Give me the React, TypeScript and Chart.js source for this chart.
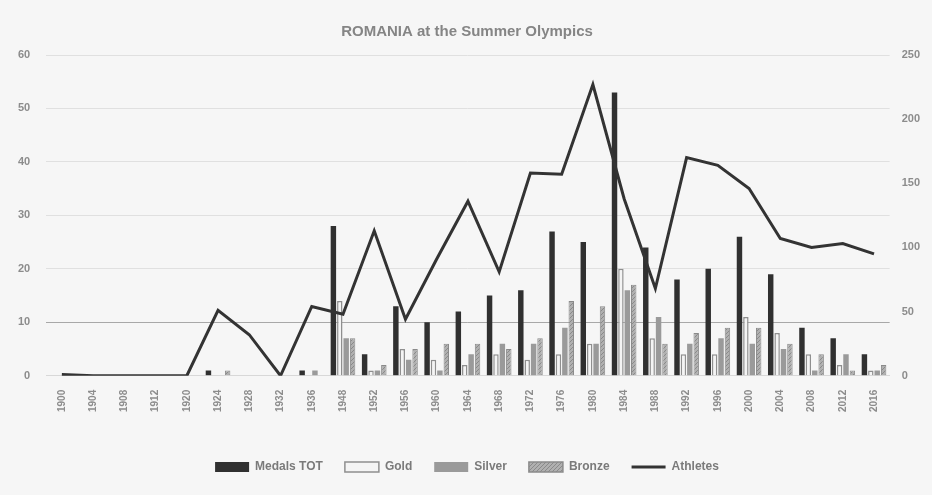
import React, { useEffect, useRef } from "react";
import { Chart, registerables } from "chart.js";

Chart.register(...registerables);

const years = ["1900", "1904", "1908", "1912", "1920", "1924", "1928", "1932", "1936", "1948", "1952", "1956", "1960", "1964", "1968", "1972", "1976", "1980", "1984", "1988", "1992", "1996", "2000", "2004", "2008", "2012", "2016"];
const medalsTot = [0, 0, 0, 0, 0, 1, 0, 0, 1, 28, 4, 13, 10, 12, 15, 16, 27, 25, 53, 24, 18, 20, 26, 19, 9, 7, 4];
const gold = [0, 0, 0, 0, 0, 0, 0, 0, 0, 14, 1, 5, 3, 2, 4, 3, 4, 6, 20, 7, 4, 4, 11, 8, 4, 2, 1];
const silver = [0, 0, 0, 0, 0, 0, 0, 0, 1, 7, 1, 3, 1, 4, 6, 6, 9, 6, 16, 11, 6, 7, 6, 5, 1, 4, 1];
const bronze = [0, 0, 0, 0, 0, 1, 0, 0, 0, 7, 2, 5, 6, 6, 5, 7, 14, 13, 17, 6, 8, 9, 9, 6, 4, 1, 2];
const athletes = [1, 0, 0, 0, 0, 51, 32, 0, 54, 48, 113, 44, 91, 136, 81, 158, 157, 227, 138, 68, 170, 164, 146, 107, 100, 103, 95];

const leftTicks = [0, 10, 20, 30, 40, 50, 60];
const rightTicks = [0, 50, 100, 150, 200, 250];

const TEXT = "#8c8c8c";
const FONT = "'Liberation Sans', 'DejaVu Sans', sans-serif";

function makeHatch(): CanvasPattern | string {
  const c = document.createElement("canvas");
  c.width = 4;
  c.height = 4;
  const g = c.getContext("2d");
  if (!g) return "#a6a6a6";
  g.fillStyle = "#b0b0b0";
  g.fillRect(0, 0, 4, 4);
  g.strokeStyle = "#8a8a8a";
  g.lineWidth = 1;
  g.beginPath();
  g.moveTo(0, 4);
  g.lineTo(4, 0);
  g.stroke();
  const p = g.createPattern(c, "repeat");
  return p || "#a6a6a6";
}

export default function App() {
  const ref = useRef<HTMLCanvasElement | null>(null);

  useEffect(() => {
    document.body.style.margin = "0";
    const canvas = ref.current;
    if (!canvas) return;
    const hatch = makeHatch();
    const chart = new Chart(canvas, {
      data: {
        labels: years,
        datasets: [
          {
            type: "bar",
            label: "Medals TOT",
            data: medalsTot,
            backgroundColor: "#303030",
            borderColor: "#303030",
            borderWidth: 0,
            yAxisID: "y",
            order: 2,
            categoryPercentage: 0.82,
            barPercentage: 0.85,
          },
          {
            type: "bar",
            label: "Gold",
            data: gold,
            backgroundColor: "#f4f4f4",
            borderColor: "#8f8f8f",
            borderWidth: 1.5,
            yAxisID: "y",
            order: 2,
            categoryPercentage: 0.82,
            barPercentage: 0.85,
          },
          {
            type: "bar",
            label: "Silver",
            data: silver,
            backgroundColor: "#9a9a9a",
            borderColor: "#9a9a9a",
            borderWidth: 0,
            yAxisID: "y",
            order: 2,
            categoryPercentage: 0.82,
            barPercentage: 0.85,
          },
          {
            type: "bar",
            label: "Bronze",
            data: bronze,
            backgroundColor: hatch as any,
            borderColor: "#8a8a8a",
            borderWidth: 1,
            yAxisID: "y",
            order: 2,
            categoryPercentage: 0.82,
            barPercentage: 0.85,
          },
          {
            type: "line",
            label: "Athletes",
            data: athletes,
            borderColor: "#333333",
            backgroundColor: "#333333",
            borderWidth: 3,
            pointRadius: 0,
            tension: 0,
            yAxisID: "y1",
            order: 1,
          },
        ],
      } as any,
      options: {
        animation: false,
        responsive: false,
        maintainAspectRatio: false,
        layout: { padding: { left: 2, right: 0, top: 0, bottom: 12 } },
        plugins: {
          title: {
            display: true,
            text: "ROMANIA at the Summer Olympics",
            color: "#858585",
            font: { family: FONT, size: 15, weight: "bold" },
            padding: { top: 23, bottom: 14 },
          },
          legend: {
            position: "bottom",
            labels: {
              color: "#7a7a7a",
              font: { family: FONT, size: 12, weight: "bold" },
              usePointStyle: true,
              pointStyleWidth: 34,
              boxHeight: 10,
              padding: 22,
              generateLabels: (ch: any) => {
                const base = Chart.defaults.plugins.legend.labels.generateLabels(ch);
                return base
                  .slice()
                  .sort((a: any, b: any) => a.datasetIndex - b.datasetIndex)
                  .map((it: any) => {
                    const i = it.datasetIndex;
                    if (i === 4) {
                      return { ...it, pointStyle: "line", lineWidth: 3, strokeStyle: "#333333", fillStyle: "#333333" };
                    }
                    return { ...it, pointStyle: "rect", lineWidth: i === 1 || i === 3 ? 1.5 : 0 };
                  });
              },
            },
          },
          tooltip: { enabled: false },
        },
        scales: {
          x: {
            grid: { display: false },
            border: { display: true, color: "#d8d8d8" },
            afterFit: (axis: any) => {
              axis.height += 21;
            },
            ticks: {
              color: TEXT,
              font: { family: FONT, size: 10, weight: "bold" },
              minRotation: 90,
              maxRotation: 90,
              autoSkip: false,
              padding: 6,
            },
          },
          y: {
            position: "left",
            min: 0,
            max: 60,
            afterBuildTicks: (axis: any) => {
              axis.ticks = leftTicks.map((v) => ({ value: v }));
            },
            grid: { color: (ctx: any) => (ctx.tick && ctx.tick.value === 10 ? "#a8a8a8" : "#e0e0e0"), lineWidth: 1, drawTicks: false },
            border: { display: false },
            ticks: {
              color: TEXT,
              font: { family: FONT, size: 11, weight: "bold" },
              padding: 16,
            },
          },
          y1: {
            position: "right",
            min: 0,
            max: 250,
            afterBuildTicks: (axis: any) => {
              axis.ticks = rightTicks.map((v) => ({ value: v }));
            },
            grid: { drawOnChartArea: false, drawTicks: false },
            border: { display: false },
            ticks: {
              color: TEXT,
              font: { family: FONT, size: 11, weight: "bold" },
              padding: 12,
            },
          },
        },
      } as any,
    });
    return () => chart.destroy();
  }, []);

  return (
    <div style={{ width: 932, height: 495, background: "#f6f6f6", position: "relative" }}>
      <canvas ref={ref} width={932} height={495} style={{ width: 932, height: 495, display: "block" }} />
    </div>
  );
}
